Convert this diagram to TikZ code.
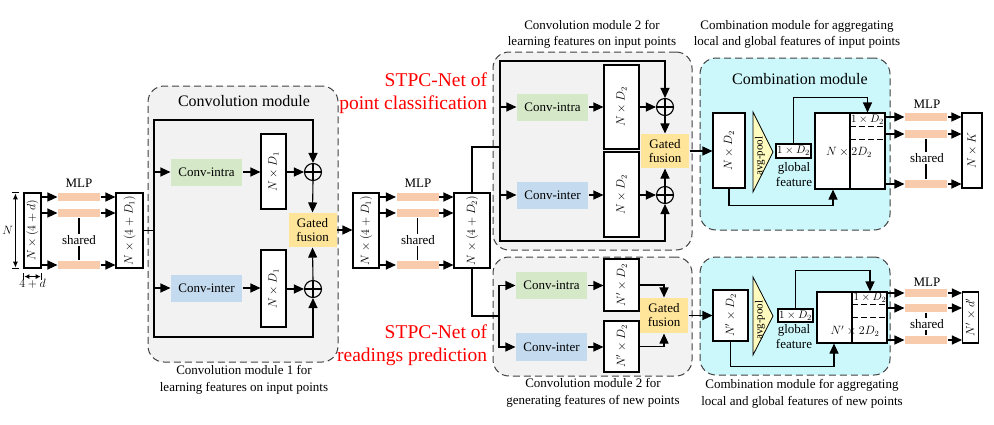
\documentclass[tikz,border=0pt]{standalone}
\usepackage{fontspec}
\setmainfont{Liberation Serif}
\usepackage{graphicx}
\usetikzlibrary{arrows.meta,calc}

\definecolor{modgray}{RGB}{242,242,242}
\definecolor{modcyan}{RGB}{204,248,252}
\definecolor{framec}{RGB}{64,64,64}
\definecolor{intrac}{RGB}{213,232,200}
\definecolor{interc}{RGB}{196,218,238}
\definecolor{gatec}{RGB}{255,229,153}
\definecolor{mlpc}{RGB}{248,203,173}
\definecolor{poolc}{RGB}{255,250,190}

\newcommand{\vlab}[1]{\rotatebox{90}{#1}}

\begin{document}
\begin{tikzpicture}[x=1pt,y=-1pt,line width=1.1pt,
    font=\fontsize{13}{15}\selectfont,
    arr/.style={-{Triangle[length=10pt,width=9pt]}},
    box/.style={draw, fill=white, inner sep=0pt, font=\fontsize{11.5}{13}\selectfont},
    mlp/.style={fill=mlpc, minimum width=42, minimum height=8, inner sep=0pt},
    conv/.style={minimum width=71, minimum height=27, inner sep=0pt},
    gate/.style={fill=gatec, minimum width=48, minimum height=34, inner sep=0pt, align=center, font=\fontsize{13}{14}\selectfont},
    plus/.style={draw, circle, minimum size=17pt, inner sep=0pt,
      path picture={\draw (path picture bounding box.north) -- (path picture bounding box.south)
        (path picture bounding box.west) -- (path picture bounding box.east);}},
    frame/.style={draw=framec, dash pattern=on 7pt off 4pt, rounded corners=16pt, line width=1pt, inner sep=0pt},
    captxt/.style={align=center, font=\fontsize{13}{16.5}\selectfont},
    shr/.style={fill=white, inner sep=1pt},
    pool/.style={fill=poolc, line width=0.8pt},
    redlbl/.style={text=red, align=right, anchor=east, font=\fontsize{19.5}{23}\selectfont}]
  \useasboundingbox (0,0) rectangle (994,424);

  % input points and first MLP
  \node[box, minimum width=17, minimum height=75] (in1) at (32.5,230.5) {\vlab{$N\times(4+d)$}};
  \draw[|<->|, >={Latex[length=6pt,width=5pt]}, line width=0.9pt]
    ($(in1.north west)+(-8,0)$) -- ($(in1.south west)+(-8,0)$) node[midway, left, inner sep=2pt] {$N$};
  \draw[|<->|, >={Latex[length=5pt,width=5pt]}, line width=0.9pt]
    ($(in1.south west)+(0,8)$) -- ($(in1.south east)+(0,8)$) node[midway, below, inner sep=2pt] {$4+d$};
  \node[mlp] (m1a) at (79,197) {};
  \node[mlp] (m1b) at (79,213) {};
  \node[mlp] (m1c) at (79,265) {};
  \node (m1t) at (79,183) {MLP};
  \draw (m1b.south) -- (m1c.north);
  \node[shr] (m1s) at (79,240) {shared};
  \node[box, minimum width=27, minimum height=75] (in2) at (129.5,230.5) {\vlab{$N\times(4+D_1)$}};
  \draw[arr] (in1.east |- m1a) -- (m1a.west);
  \draw[arr] (in1.east |- m1b) -- (m1b.west);
  \draw[arr] (in1.east |- m1c) -- (m1c.west);
  \draw[arr] (m1a.east) -- (m1a.east -| in2.west);
  \draw[arr] (m1b.east) -- (m1b.east -| in2.west);
  \draw[arr] (m1c.east) -- (m1c.east -| in2.west);

  % convolution module 1
  \node[frame, fill=modgray, minimum width=190, minimum height=276] (cm1) at (243,224) {};
  \node[font=\fontsize{16}{18}\selectfont] (cm1t) at (244,101) {Convolution module};
  \node[conv, fill=intrac] (ci1) at (206.5,172) {Conv-intra};
  \node[conv, fill=interc] (ce1) at (206.5,288) {Conv-inter};
  \node[box, minimum width=25, minimum height=75] (f1a) at (273.5,171.5) {\vlab{$N\times D_1$}};
  \node[box, minimum width=25, minimum height=77] (f1b) at (273.5,288.5) {\vlab{$N\times D_1$}};
  \node[plus] (p1a) at (313,172) {};
  \node[plus] (p1b) at (313,289) {};
  \node[gate] (g1) at (312.5,230) {Gated\\fusion};
  \coordinate (j1) at (154,230.5);
  \coordinate (t1) at (154,120);
  \coordinate (b1) at (154,337);
  \draw (in2.east) -- (j1);
  \draw[arr] (j1) -- (t1) -| (p1a.north);
  \draw[arr] (j1) -- (b1) -| (p1b.south);
  \draw[arr] (t1 |- ci1) -- (ci1.west);
  \draw[arr] (b1 |- ce1) -- (ce1.west);
  \draw[arr] (ci1.east) -- (ci1.east -| f1a.west);
  \draw[arr] (ce1.east) -- (ce1.east -| f1b.west);
  \draw[arr] (f1a.east |- p1a) -- (p1a.west);
  \draw[arr] (f1b.east |- p1b) -- (p1b.west);
  \draw[arr] (p1a.south) -- (g1.north);
  \draw[arr] (p1b.north) -- (g1.south);
  \node[captxt] (cm1c) at (244,380) {Convolution module 1 for\\learning features on input points};

  % second MLP
  \node[box, minimum width=26, minimum height=75] (in3) at (366,230.5) {\vlab{$N\times(4+D_1)$}};
  \draw[arr] (g1.east) -- (g1.east -| in3.west);
  \node[mlp] (m2a) at (417.5,197) {};
  \node[mlp] (m2b) at (417.5,213) {};
  \node[mlp] (m2c) at (417.5,265) {};
  \node (m2t) at (418,183) {MLP};
  \draw (m2b.south) -- (m2c.north);
  \node[shr] (m2s) at (418,240) {shared};
  \node[box, minimum width=36, minimum height=75] (in4) at (472,230.5) {\vlab{$N\times(4+D_2)$}};
  \draw[arr] (in3.east |- m2a) -- (m2a.west);
  \draw[arr] (in3.east |- m2b) -- (m2b.west);
  \draw[arr] (in3.east |- m2c) -- (m2c.west);
  \draw[arr] (m2a.east) -- (m2a.east -| in4.west);
  \draw[arr] (m2b.east) -- (m2b.east -| in4.west);
  \draw[arr] (m2c.east) -- (m2c.east -| in4.west);

  % convolution module 2, input points
  \node[frame, fill=modgray, minimum width=199, minimum height=198] (cm2) at (592.5,151) {};
  \node[conv, fill=intrac] (ci2) at (552.5,107) {Conv-intra};
  \node[conv, fill=interc] (ce2) at (552.5,195) {Conv-inter};
  \node[box, minimum width=35, minimum height=84] (f2a) at (621.5,107) {\vlab{$N\times D_2$}};
  \node[box, minimum width=35, minimum height=85] (f2b) at (621.5,194.5) {\vlab{$N\times D_2$}};
  \node[plus] (p2a) at (665,107) {};
  \node[plus] (p2b) at (665,195) {};
  \node[gate] (g2) at (665,151) {Gated\\fusion};
  \coordinate (j2) at (500,147);
  \coordinate (t2) at (500,61);
  \coordinate (b2) at (500,241);
  \draw (in4.north) |- (j2);
  \draw[arr] (j2) -- (t2) -| (p2a.north);
  \draw[arr] (j2) -- (b2) -| (p2b.south);
  \draw[arr] (t2 |- ci2) -- (ci2.west);
  \draw[arr] (b2 |- ce2) -- (ce2.west);
  \draw[arr] (ci2.east) -- (ci2.east -| f2a.west);
  \draw[arr] (ce2.east) -- (ce2.east -| f2b.west);
  \draw[arr] (f2a.east |- p2a) -- (p2a.west);
  \draw[arr] (f2b.east |- p2b) -- (p2b.west);
  \draw[arr] (p2a.south) -- (g2.north);
  \draw[arr] (p2b.north) -- (g2.south);
  \node[captxt] (cm2c) at (592,34.5) {Convolution module 2 for\\learning features on input points};
  \node[redlbl] (r1) at (491,93.5) {STPC-Net of\\point classification};

  % convolution module 2, new points
  \node[frame, fill=modgray, minimum width=199, minimum height=119] (cm3) at (592.5,316.5) {};
  \node[conv, fill=intrac] (ci3) at (551.5,285.5) {Conv-intra};
  \node[conv, fill=interc, minimum height=28] (ce3) at (551.5,347) {Conv-inter};
  \node[box, minimum width=35, minimum height=52] (f3a) at (621.5,285) {\vlab{$N'\times D_2$}};
  \node[box, minimum width=35, minimum height=51] (f3b) at (621.5,346.5) {\vlab{$N'\times D_2$}};
  \node[gate, minimum height=35] (g3) at (664,315.5) {Gated\\fusion};
  \coordinate (j3) at (499,316);
  \draw (in4.south) |- (j3);
  \draw[arr] (j3) |- (ci3.west);
  \draw[arr] (j3) |- (ce3.west);
  \draw[arr] (ci3.east) -- (ci3.east -| f3a.west);
  \draw[arr] (ce3.east) -- (ce3.east -| f3b.west);
  \draw[arr] (f3a.east) -| (g3.north);
  \draw[arr] (f3b.east) -| (g3.south);
  \node[captxt] (cm3c) at (593,393) {Convolution module 2 for\\generating features of new points};
  \node[redlbl] (r2) at (491,345) {STPC-Net of\\readings prediction};

  % combination module, input points
  \node[frame, fill=modcyan, minimum width=190, minimum height=172] (cb1) at (795,144) {};
  \node[font=\fontsize{16}{18}\selectfont] (cb1t) at (800,79) {Combination module};
  \node[box, minimum width=32, minimum height=75] (l1) at (729,150.5) {\vlab{$N\times D_2$}};
  \draw[arr] (g2.east) -- (g2.east -| l1.west);
  \draw[pool] (753,112) -- (773,152) -- (753,192) -- cycle;
  \begin{scope}
    \clip (753,112) -- (773,152) -- (753,192) -- cycle;
    \node[font=\fontsize{11}{11}\selectfont, inner sep=0pt] (ap1) at (760,156) {\rotatebox{90}{avg-pool}};
  \end{scope}
  \node[box, minimum width=35, minimum height=14, font=\fontsize{11}{12}\selectfont] (gf1) at (793.5,151) {$1\times D_2$};
  \node[align=center, font=\fontsize{13}{15}\selectfont, inner sep=0pt] (gl1) at (794,175) {global\\feature};
  \node[box, minimum width=70, minimum height=76] (cat1) at (850,151) {};
  \draw (cat1.north) -- (cat1.south);
  \node[font=\fontsize{11}{12}\selectfont, inner sep=0pt] (c1) at (867.5,120) {$1\times D_2$};
  \draw[dash pattern=on 6pt off 3pt] ($(cat1.north)+(0,14)$) -- ($(cat1.north east)+(0,14)$);
  \draw[dash pattern=on 6pt off 3pt] ($(cat1.north)+(0,27)$) -- ($(cat1.north east)+(0,27)$);
  \node[font=\fontsize{11.5}{13}\selectfont, inner sep=0pt] (cat1t) at (849,152) {$N\times 2D_2$};
  \draw[arr] (gf1.north) -- ++(0,-46) -| (cat1.north -| c1);
  \draw[arr] (l1.south) -- ++(0,17) -| ($(cat1.south)+(-17,0)$);
  \node[mlp] (m4a) at (926,117) {};
  \node[mlp] (m4b) at (926,134) {};
  \node[mlp] (m4c) at (926,184) {};
  \node (m4t) at (927,104) {MLP};
  \draw (m4b.south) -- (m4c.north);
  \node[shr] (m4s) at (927,158) {shared};
  \node[box, minimum width=20, minimum height=75] (o1) at (972,150.5) {\vlab{$N\times K$}};
  \draw[arr] (cat1.east |- m4a) -- (m4a.west);
  \draw[arr] (cat1.east |- m4b) -- (m4b.west);
  \draw[arr] (cat1.east |- m4c) -- (m4c.west);
  \draw[arr] (m4a.east) -- (m4a.east -| o1.west);
  \draw[arr] (m4b.east) -- (m4b.east -| o1.west);
  \draw[arr] (m4c.east) -- (m4c.east -| o1.west);
  \node[captxt] (cb1c) at (797,34.5) {Combination module for aggregating\\local and global features of input points};

  % combination module, new points
  \node[frame, fill=modcyan, minimum width=190, minimum height=118] (cb2) at (795,316) {};
  \node[box, minimum width=35, minimum height=51] (l2) at (730.5,315.5) {\vlab{$N'\times D_2$}};
  \draw[arr] (g3.east) -- (g3.east -| l2.west);
  \draw[pool] (753,277) -- (773,316) -- (753,355) -- cycle;
  \begin{scope}
    \clip (753,277) -- (773,316) -- (753,355) -- cycle;
    \node[font=\fontsize{11}{11}\selectfont, inner sep=0pt] (ap2) at (760,320) {\rotatebox{90}{avg-pool}};
  \end{scope}
  \node[box, minimum width=35, minimum height=13, font=\fontsize{11}{12}\selectfont] (gf2) at (795.5,315.5) {$1\times D_2$};
  \node[align=center, font=\fontsize{13}{15}\selectfont, inner sep=0pt] (gl2) at (794,337) {global\\feature};
  \node[box, minimum width=70, minimum height=51] (cat2) at (852,317.5) {};
  \draw (cat2.north) -- (cat2.south);
  \node[font=\fontsize{11}{12}\selectfont, inner sep=0pt] (c2) at (870,298) {$1\times D_2$};
  \draw[dash pattern=on 6pt off 3pt] ($(cat2.north)+(0,13)$) -- ($(cat2.north east)+(0,13)$);
  \draw[dash pattern=on 6pt off 3pt] ($(cat2.north)+(0,26)$) -- ($(cat2.north east)+(0,26)$);
  \node[font=\fontsize{11.5}{13}\selectfont, inner sep=0pt] (cat2t) at (855,331) {$N'\times 2D_2$};
  \draw[arr] (gf2.north) -- ++(0,-38) -| (cat2.north -| c2);
  \draw[arr] (l2.south) -- ++(0,25) -| ($(cat2.south)+(-18,0)$);
  \node[mlp] (m5a) at (926,293) {};
  \node[mlp] (m5b) at (926,308) {};
  \node[mlp] (m5c) at (926,340) {};
  \node (m5t) at (927,282) {MLP};
  \draw (m5b.south) -- (m5c.north);
  \node[shr] (m5s) at (927,324) {shared};
  \node[box, minimum width=16, minimum height=51] (o2) at (970.5,317.5) {\vlab{$N'\times d'$}};
  \draw[arr] (cat2.east |- m5a) -- (m5a.west);
  \draw[arr] (cat2.east |- m5b) -- (m5b.west);
  \draw[arr] (cat2.east |- m5c) -- (m5c.west);
  \draw[arr] (m5a.east) -- (m5a.east -| o2.west);
  \draw[arr] (m5b.east) -- (m5b.east -| o2.west);
  \draw[arr] (m5c.east) -- (m5c.east -| o2.west);
  \node[captxt] (cb2c) at (802,394) {Combination module for aggregating\\local and global features of new points};
\end{tikzpicture}
\end{document}
